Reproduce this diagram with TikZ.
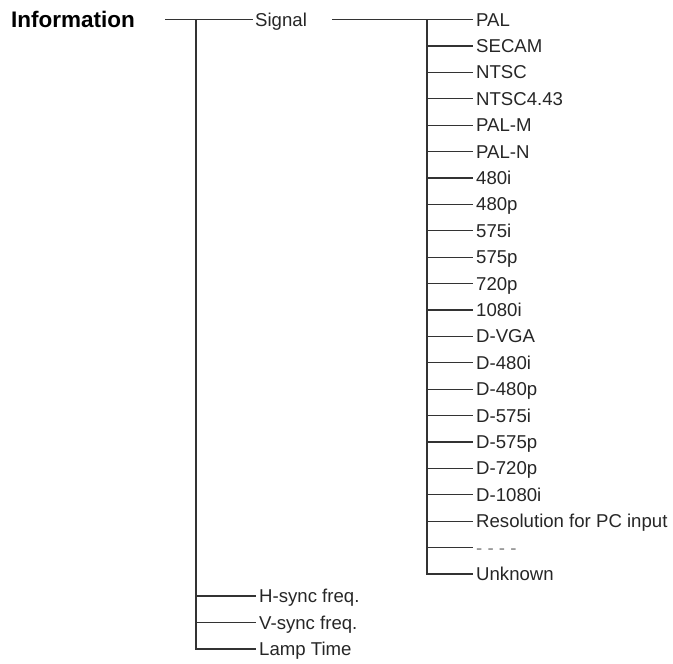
\documentclass[tikz,border=0pt]{standalone}
\usepackage{fontspec}
\setmainfont{Liberation Sans}

\begin{document}
\begin{tikzpicture}[
        x=1pt,
        y=-1pt,
        font=\fontsize{18.6}{20}\selectfont,
        wire/.style={line width=1.2pt, black!80},
        item/.style={anchor=west, inner xsep=3pt, inner ysep=0pt, text height=13.3pt, text depth=0pt, text=black!85},
        head/.style={anchor=west, inner sep=0pt, text height=16pt, text depth=0pt, font=\fontsize{22.5}{24}\selectfont\bfseries}
    ]
        \useasboundingbox (0,0) rectangle (673,664);

        \node[head] (info) at (11,19.5) {Information};
        \node[item, inner xsep=2pt] (signal) at (253,19.5) {Signal};

        \foreach \lab [count=\i from 0] in {PAL,SECAM,NTSC,NTSC4.43,PAL-M,PAL-N,480i,480p,575i,575p,720p,1080i,D-VGA,D-480i,D-480p,D-575i,D-575p,D-720p,D-1080i,Resolution for PC input,{\textcolor{gray}{- - - -}},Unknown} {
            \node[item] (sig\i) at (473,19.5+26.4*\i) {\lab};
        }

        \node[item] (hsync) at (256,596) {H-sync freq.};
        \node[item] (vsync) at (256,622.7) {V-sync freq.};
        \node[item] (lamp) at (256,649) {Lamp Time};

        \coordinate (infoout) at (165,19.5);
        \coordinate (trunk) at (196,19.5);
        \coordinate (sigout) at (332,19.5);
        \coordinate (fork) at (427,19.5);

        \draw[wire] (infoout) -- (signal.west);
        \draw[wire] (trunk) |- (lamp.west);
        \foreach \n in {hsync,vsync} {
            \draw[wire] (trunk |- \n.west) -- (\n.west);
        }

        \draw[wire] (sigout) -- (sig0.west);
        \draw[wire] (fork) |- (sig21.west);
        \foreach \i in {1,...,20} {
            \draw[wire] (fork |- sig\i.west) -- (sig\i.west);
        }
    \end{tikzpicture}
\end{document}
